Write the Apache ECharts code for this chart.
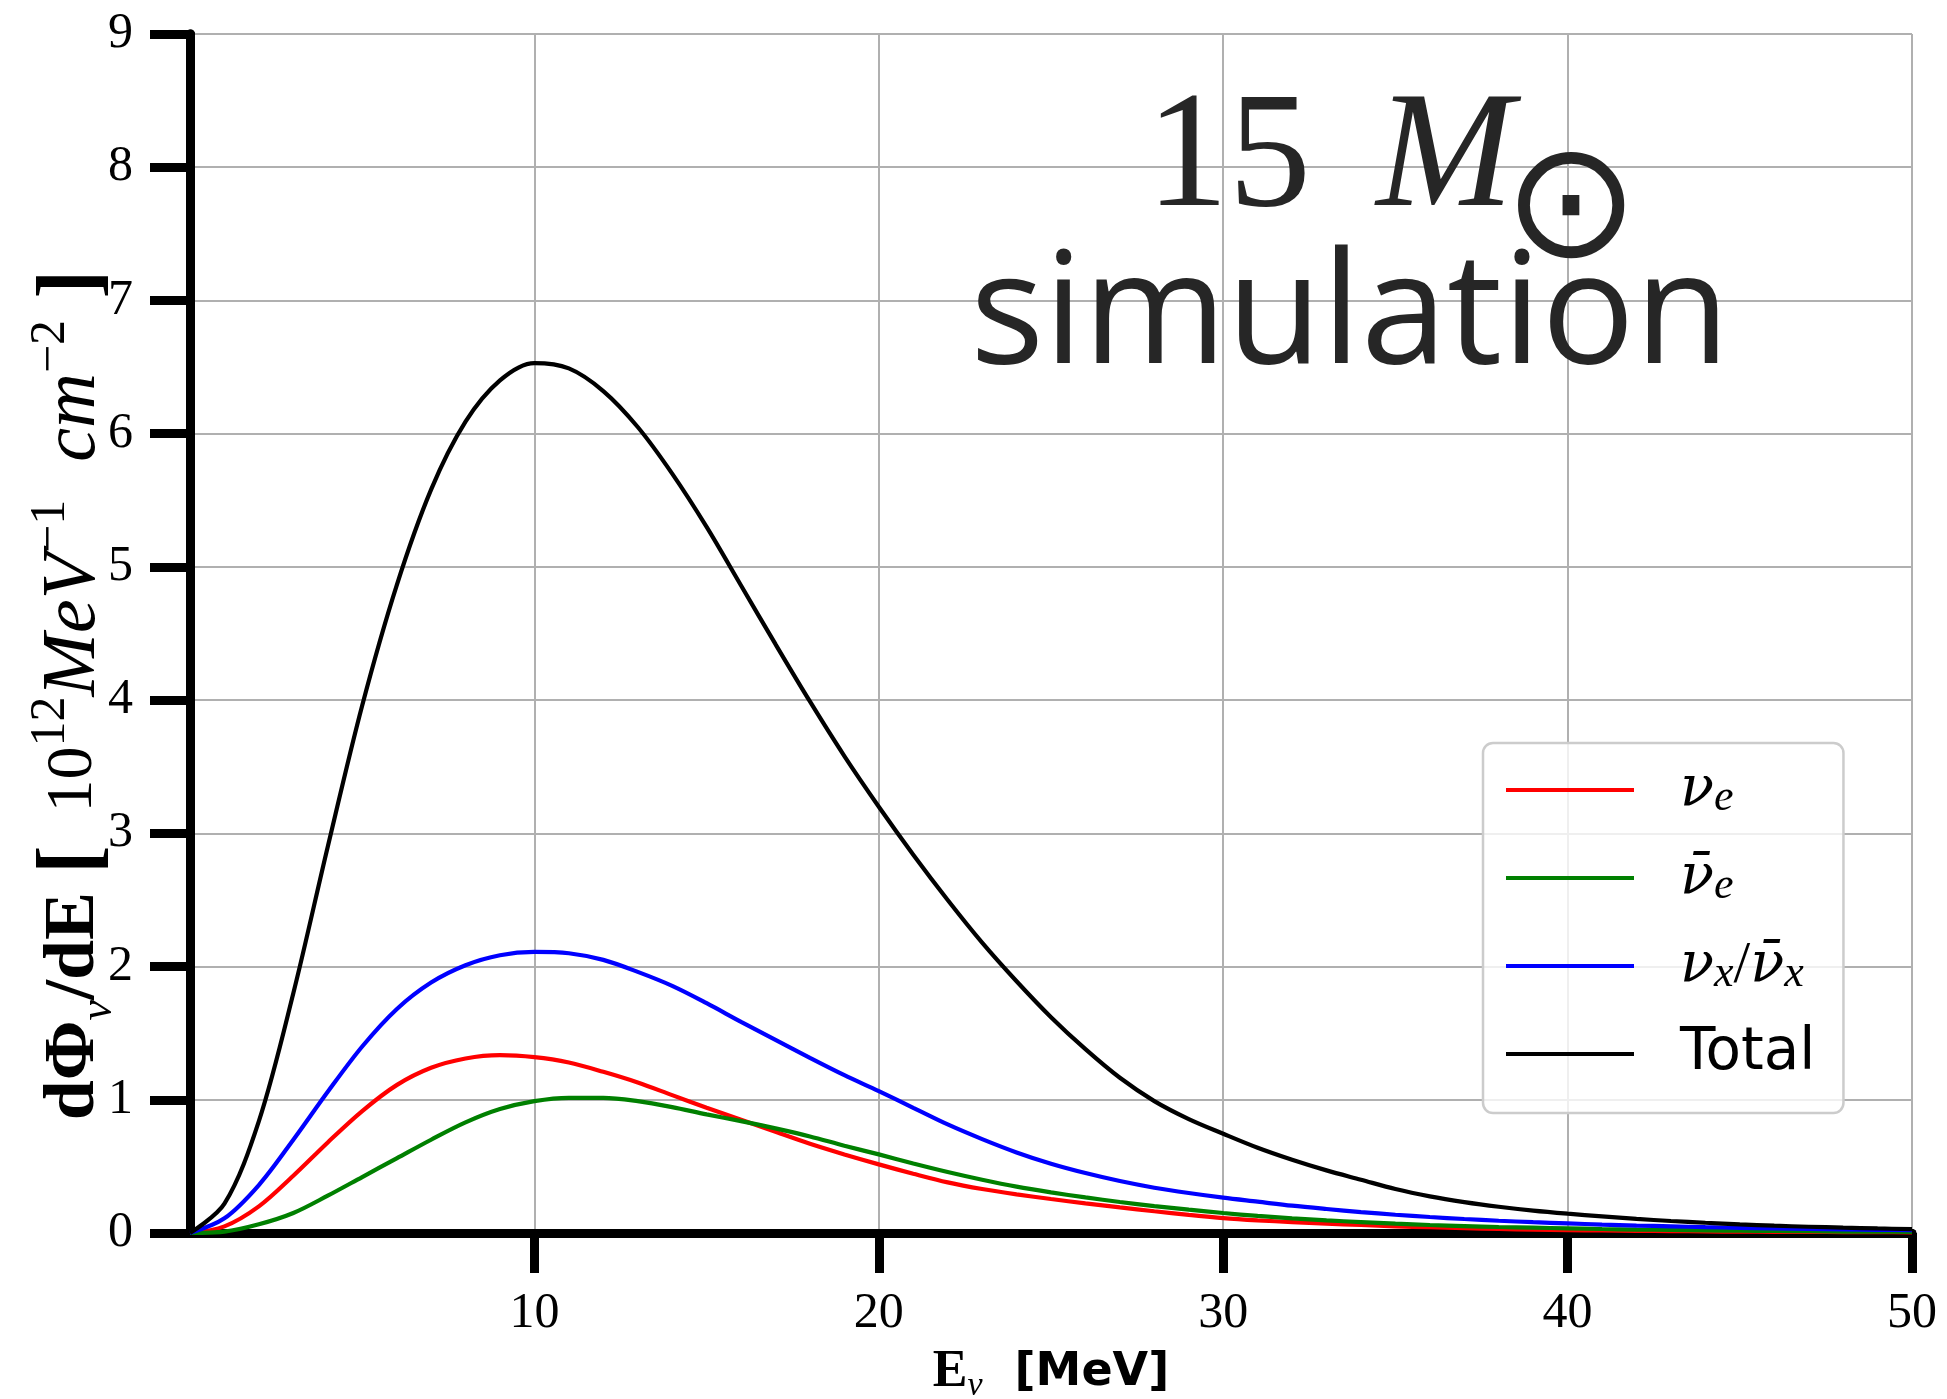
<!DOCTYPE html>
<html>
<head>
<meta charset="utf-8">
<script src="https://cdn.jsdelivr.net/npm/echarts@6/dist/echarts.min.js"></script>
<style>
  html, body { margin: 0; padding: 0; background: #fff; }
  #chart { width: 1947px; height: 1399px; }
</style>
</head>
<body>
<div id="chart"></div>
<script>
// neutrino energy [MeV]
var energy = [0, 1, 2, 3, 4, 5, 6, 7, 8, 9, 10, 11, 12, 13, 14, 15, 16, 17, 18, 19, 20,
  21, 22, 23, 24, 25, 26, 27, 28, 29, 30, 31, 32, 33, 34, 35, 36, 37, 38, 39, 40,
  41, 42, 43, 44, 45, 46, 47, 48, 49, 50];

// dPhi/dE in 10^12 MeV^-1 cm^-2
var nuE = [0, 0.05, 0.20, 0.43, 0.68, 0.915, 1.11, 1.24, 1.31, 1.335, 1.32,
  1.28, 1.21, 1.13, 1.035, 0.94, 0.85, 0.76, 0.67, 0.59, 0.515,
  0.445, 0.38, 0.33, 0.29, 0.255, 0.222, 0.192, 0.163, 0.136, 0.112,
  0.095, 0.082, 0.07, 0.06, 0.05, 0.043, 0.036, 0.03, 0.026, 0.022,
  0.019, 0.016, 0.014, 0.012, 0.01, 0.009, 0.008, 0.007, 0.006, 0.005];
var nuEBar = [0, 0.01, 0.065, 0.15, 0.28, 0.42, 0.56, 0.70, 0.83, 0.93, 0.99,
  1.015, 1.015, 0.99, 0.945, 0.89, 0.84, 0.785, 0.725, 0.655, 0.59,
  0.522, 0.458, 0.40, 0.348, 0.305, 0.267, 0.233, 0.202, 0.175, 0.15,
  0.128, 0.11, 0.095, 0.082, 0.07, 0.06, 0.052, 0.045, 0.04, 0.035,
  0.03, 0.026, 0.023, 0.02, 0.017, 0.015, 0.013, 0.011, 0.01, 0.008];
var nuX = [0, 0.11, 0.36, 0.70, 1.06, 1.40, 1.68, 1.88, 2.01, 2.085, 2.11,
  2.10, 2.05, 1.96, 1.855, 1.725, 1.585, 1.45, 1.315, 1.185, 1.065,
  0.94, 0.815, 0.705, 0.605, 0.52, 0.45, 0.39, 0.34, 0.30, 0.265,
  0.235, 0.205, 0.18, 0.157, 0.137, 0.12, 0.105, 0.092, 0.081, 0.072,
  0.063, 0.056, 0.05, 0.044, 0.039, 0.034, 0.03, 0.027, 0.024, 0.021];
var total = [0, 0.22, 0.84, 1.80, 2.90, 3.96, 4.86, 5.58, 6.09, 6.40, 6.53,
  6.49, 6.32, 6.05, 5.70, 5.30, 4.86, 4.42, 3.99, 3.58, 3.20,
  2.84, 2.50, 2.18, 1.89, 1.62, 1.38, 1.165, 0.99, 0.855, 0.745,
  0.64, 0.55, 0.47, 0.40, 0.33, 0.275, 0.232, 0.197, 0.168, 0.145,
  0.125, 0.106, 0.09, 0.077, 0.065, 0.055, 0.047, 0.04, 0.034, 0.029];

var seriesNames = ['nue', 'nuebar', 'nux', 'total'];
var seriesColors = ['#ff0000', '#008000', '#0000ff', '#000000'];
var seriesValues = [nuE, nuEBar, nuX, total];
var xTickValues = [10, 20, 30, 40, 50];

var legendLabels = {
    nue: '{nu|ν}{sub|e}',
    nuebar: '{nu|ν̄}{sub|e}',
    nux: '{nu|ν}{sub|x}{sl|/}{nu|ν̄}{sub|x}',
    total: '{sans|Total}'
};

var serif = 'Liberation Serif';
var sans = 'DejaVu Sans';

function pairs(ys) {
    return energy.map(function (e, i) { return [e, ys[i]]; });
}

var chart = echarts.init(document.getElementById('chart'));

var series = seriesNames.map(function (name, i) {
    return {
        name: name,
        type: 'line',
        data: pairs(seriesValues[i]),
        showSymbol: false,
        smooth: 0.33,
        lineStyle: { color: seriesColors[i], width: 4.2 },
        itemStyle: { color: seriesColors[i] },
        z: 3 + i
    };
});

var spine = { show: true, lineStyle: { color: '#000', width: 9 } };

var options = {
    animation: false,
    backgroundColor: '#fff',
    grid: { left: 190, right: 35, top: 34, bottom: 166, outerBoundsMode: 'none' },
    xAxis: [
        {
            type: 'value', min: 0, max: 50, interval: 10,
            axisLine: spine,
            axisTick: { show: true, inside: false, length: 40, customValues: xTickValues,
                lineStyle: { color: '#000', width: 9 } },
            axisLabel: { show: true, margin: 56, customValues: xTickValues,
                fontFamily: serif, fontSize: 50, color: '#000' },
            splitLine: { show: true, lineStyle: { color: '#b0b0b0', width: 2 } },
            name: '{e|E}{es|ν}{m|  [MeV]}',
            nameLocation: 'middle',
            nameGap: 110,
            nameTextStyle: {
                rich: {
                    e: { fontFamily: serif, fontWeight: 'bold', fontSize: 52, color: '#000', lineHeight: 60 },
                    es: { fontFamily: serif, fontStyle: 'italic', fontSize: 34, color: '#000', lineHeight: 40, verticalAlign: 'bottom' },
                    m: { fontFamily: sans, fontWeight: 'bold', fontSize: 46, color: '#000', lineHeight: 60 }
                }
            }
        },
        {
            type: 'value', min: 0, max: 50, position: 'top',
            axisLine: spine, axisTick: { show: false }, axisLabel: { show: false },
            splitLine: { show: false }
        }
    ],
    yAxis: [
        {
            type: 'value', min: 0, max: 9, interval: 1,
            axisLine: spine,
            axisTick: { show: true, inside: false, length: 40, lineStyle: { color: '#000', width: 9 } },
            axisLabel: { margin: 57, fontFamily: serif, fontSize: 50, color: '#000' },
            splitLine: { show: true, lineStyle: { color: '#b0b0b0', width: 2 } }
        },
        {
            type: 'value', min: 0, max: 9, position: 'right',
            axisLine: spine, axisTick: { show: false }, axisLabel: { show: false },
            splitLine: { show: false }
        }
    ],
    legend: {
        orient: 'vertical',
        left: 1483,
        top: 743,
        data: seriesNames,
        icon: 'rect',
        itemWidth: 128,
        itemHeight: 4,
        itemGap: 28,
        padding: [17, 28, 29, 23],
        backgroundColor: 'rgba(255,255,255,0.8)',
        borderColor: '#cccccc',
        borderWidth: 2.5,
        borderRadius: 10,
        formatter: function (name) { return legendLabels[name]; },
        textStyle: {
            padding: [0, 0, 0, 41],
            lineHeight: 60,
            rich: {
                nu: { fontFamily: 'DejaVu Serif', fontStyle: 'italic', fontSize: 56, color: '#000', lineHeight: 60 },
                sl: { fontFamily: serif, fontSize: 60, color: '#000', lineHeight: 60 },
                sub: { fontFamily: serif, fontStyle: 'italic', fontSize: 44, color: '#000', lineHeight: 44, verticalAlign: 'bottom' },
                sans: { fontFamily: sans, fontSize: 58, color: '#000', lineHeight: 60 }
            }
        }
    },
    graphic: [
        {
            // y axis title, sits a bit below the middle of the axis
            type: 'text', x: 74, y: 695, rotation: Math.PI / 2, z: 10,
            style: {
                text: '{b|dΦ}{bs|ν}{b|/dE }{br|[}{r|  10}{sup|12}{i|MeV}{sup|−1}{i|  cm}{sup|−2}{br| ]}',
                align: 'center',
                verticalAlign: 'middle',
                rich: {
                    b: { fontFamily: serif, fontWeight: 'bold', fontSize: 72, fill: '#000', lineHeight: 96 },
                    br: { fontFamily: serif, fontWeight: 'bold', fontSize: 86, fill: '#000', lineHeight: 96 },
                    bs: { fontFamily: serif, fontStyle: 'italic', fontSize: 46, fill: '#000', lineHeight: 58, verticalAlign: 'bottom' },
                    r: { fontFamily: serif, fontSize: 66, fill: '#000', lineHeight: 96 },
                    i: { fontFamily: serif, fontStyle: 'italic', fontSize: 76, fill: '#000', lineHeight: 96 },
                    sup: { fontFamily: serif, fontSize: 50, fill: '#000', lineHeight: 58, verticalAlign: 'top' }
                }
            }
        },
        {
            type: 'text', left: 1146, top: 79, z: 10,
            style: {
                text: '{n|15 }{m|M}',
                rich: {
                    n: { fontFamily: serif, fontSize: 165, fill: '#262626' },
                    m: { fontFamily: serif, fontStyle: 'italic', fontSize: 165, fill: '#262626', padding: [0, 0, 0, 24] }
                }
            }
        },
        {
            type: 'text', x: 1571, y: 214, z: 10,
            style: { text: '⊙', fontFamily: sans, fontSize: 162, fill: '#262626', align: 'center', verticalAlign: 'middle' }
        },
        {
            type: 'text', x: 1350, y: 396, z: 10,
            style: { text: 'simulation', fontFamily: 'Open Sans', fontSize: 155, fill: '#262626', align: 'center', verticalAlign: 'bottom' }
        }
    ],
    series: series
};

chart.setOption(options);
</script>
</body>
</html>
